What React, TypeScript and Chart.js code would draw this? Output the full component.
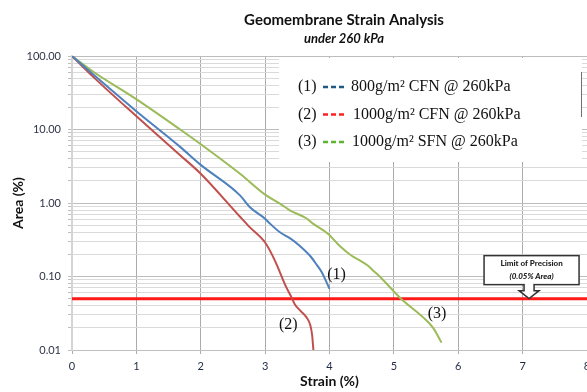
import React, { useEffect, useRef } from "react";
import { Chart, registerables } from "chart.js";

Chart.register(...registerables);

// ---- Data ----
const strain1 = [0, 0.33, 0.98, 1.68, 2.0, 2.61, 2.76, 3.0, 3.07, 3.23, 3.39, 3.54, 3.7, 3.8, 3.88, 3.95, 4.0];
const area1 = [100, 56, 18.3, 5.8, 3.3, 1.27, 0.88, 0.61, 0.53, 0.4, 0.33, 0.26, 0.19, 0.145, 0.114, 0.085, 0.068];

const strain2 = [0, 0.33, 0.98, 1.68, 2.0, 2.61, 2.76, 3.0, 3.15, 3.33, 3.41, 3.46, 3.55, 3.64, 3.7, 3.73, 3.75];
const area2 = [100, 52, 15.7, 4.47, 2.5, 0.65, 0.47, 0.29, 0.166, 0.071, 0.052, 0.042, 0.034, 0.028, 0.022, 0.016, 0.01];

const strain3 = [0, 0.33, 0.98, 1.68, 2.0, 2.61, 3.0, 3.23, 3.39, 3.64, 3.75, 3.98, 4.16, 4.35, 4.47, 4.6, 4.68, 4.78, 4.99, 5.12, 5.45, 5.61, 5.74];
const area3 = [100, 61, 26.5, 10, 6.3, 2.5, 1.3, 0.98, 0.79, 0.62, 0.52, 0.38, 0.26, 0.19, 0.166, 0.14, 0.12, 0.1, 0.064, 0.049, 0.028, 0.02, 0.0126];

const xTickValues = [0, 1, 2, 3, 4, 5, 6, 7, 8];
const yDecadeValues = [0.01, 0.1, 1, 10, 100];
const yTickLabels = ["0.01", "0.10", "1.00", "10.00", "100.00"];

const seriesTags = ["(1)", "(2)", "(3)"];
const legendNames = ["800g/m\u00B2 CFN @ 260kPa", "1000g/m\u00B2 CFN @ 260kPa", "1000g/m\u00B2 SFN @ 260kPa"];
const lineColors = ["#4f81bd", "#c0504d", "#9bbb59"];
const legendDashColors = ["#1f5a86", "#ff2020", "#5cb531"];
const tagX = [4.11, 3.36, 5.67];
const tagY = [0.106, 0.022, 0.031];

const limitValue = 0.05;
const limitArrowX = 7.1;
const limitText = ["Limit of Precision", "(0.05% Area)"];

const titleText = "Geomembrane Strain Analysis";
const subtitleText = "under 260 kPa";
const xTitle = "Strain (%)";
const yTitle = "Area (%)";

const toPoints = (xs: number[], ys: number[]) => xs.map((x, i) => ({ x, y: ys[i] }));

const overlayPlugin = {
  id: "overlay",
  beforeDatasetsDraw(chart: any) {
    const ctx = chart.ctx;
    ctx.save();
    // legend box (covers grid)
    ctx.fillStyle = "#ffffff";
    ctx.fillRect(279, 58, 303, 104);
    ctx.strokeStyle = "#707070";
    ctx.lineWidth = 1;
    ctx.beginPath();
    ctx.moveTo(581.5, 72);
    ctx.lineTo(581.5, 117);
    ctx.stroke();

    ctx.font = "16px 'Liberation Serif', 'Times New Roman', serif";
    ctx.textBaseline = "middle";
    ctx.textAlign = "left";
    const rows = [87, 114.5, 142];
    const textX = [351, 353, 352];
    for (let i = 0; i < 3; i++) {
      const y = rows[i];
      ctx.fillStyle = "#111111";
      ctx.fillText(seriesTags[i], 298, y);
      ctx.strokeStyle = legendDashColors[i];
      ctx.lineWidth = 2.5;
      ctx.setLineDash([5, 3]);
      ctx.beginPath();
      ctx.moveTo(323, y);
      ctx.lineTo(345, y);
      ctx.stroke();
      ctx.setLineDash([]);
      ctx.fillStyle = "#111111";
      ctx.fillText(legendNames[i], textX[i], y);
    }
    ctx.restore();
  },
  afterDraw(chart: any) {
    const ctx = chart.ctx;
    const xs = chart.scales.x;
    const ys = chart.scales.y;
    ctx.save();
    // titles
    ctx.fillStyle = "#111111";
    ctx.textAlign = "center";
    ctx.textBaseline = "middle";
    ctx.font = "bold 15px Lato, 'Open Sans', sans-serif";
    ctx.fillText(titleText, 344, 20);
    ctx.font = "italic bold 13px Lato, 'Open Sans', sans-serif";
    ctx.fillText(subtitleText, 344, 39);

    // curve tags
    ctx.font = "16px 'Liberation Serif', 'Times New Roman', serif";
    for (let i = 0; i < 3; i++) {
      ctx.fillText(seriesTags[i], xs.getPixelForValue(tagX[i]), ys.getPixelForValue(tagY[i]));
    }

    // limit annotation
    const tipX = xs.getPixelForValue(limitArrowX);
    const tipY = ys.getPixelForValue(limitValue);
    const bx0 = tipX - 45, bx1 = tipX + 50, by0 = tipY - 43, by1 = tipY - 14;
    ctx.fillStyle = "#ffffff";
    ctx.strokeStyle = "#333333";
    ctx.lineWidth = 1.5;
    ctx.fillRect(bx0, by0, bx1 - bx0, by1 - by0);
    ctx.strokeRect(bx0, by0, bx1 - bx0, by1 - by0);
    // arrow
    ctx.beginPath();
    ctx.moveTo(tipX - 5, by1);
    ctx.lineTo(tipX - 5, tipY - 8);
    ctx.lineTo(tipX - 10, tipY - 8);
    ctx.lineTo(tipX, tipY);
    ctx.lineTo(tipX + 10, tipY - 8);
    ctx.lineTo(tipX + 5, tipY - 8);
    ctx.lineTo(tipX + 5, by1);
    ctx.fill();
    ctx.stroke();
    ctx.fillRect(tipX - 4, by1 - 1.5, 8, 3);
    ctx.fillStyle = "#222222";
    const cx = (bx0 + bx1) / 2;
    ctx.font = "900 8px Lato, 'Open Sans', sans-serif";
    ctx.fillText(limitText[0], cx, by0 + 8);
    ctx.font = "italic 900 8px Lato, 'Open Sans', sans-serif";
    ctx.fillText(limitText[1], cx, by0 + 21);
    ctx.restore();
  },
};

export default function App() {
  const canvasRef = useRef<HTMLCanvasElement | null>(null);

  useEffect(() => {
    if (!canvasRef.current) return;
    const yGridValues: number[] = [];
    for (let d = -2; d <= 1; d++) {
      for (let k = 1; k <= 9; k++) yGridValues.push(Number((k * Math.pow(10, d)).toPrecision(6)));
    }
    yGridValues.push(100);
    const isDecade = (v: number) => Math.abs(Math.log10(v) - Math.round(Math.log10(v))) < 1e-9;

    const curve = (i: number, xs: number[], ys: number[]) => ({
      label: legendNames[i],
      data: toPoints(xs, ys),
      borderColor: lineColors[i],
      borderWidth: 2,
      pointRadius: 0,
      cubicInterpolationMode: "monotone",
      fill: false,
    });

    const chart = new Chart(canvasRef.current, {
      type: "line",
      data: {
        datasets: [
          curve(0, strain1, area1),
          curve(1, strain2, area2),
          curve(2, strain3, area3),
          { label: "limit", data: toPoints([xTickValues[0], xTickValues[xTickValues.length - 1]], [limitValue, limitValue]), borderColor: "#ff1a1a", borderWidth: 3, pointRadius: 0, fill: false },
        ],
      },
      options: {
        responsive: false,
        animation: false,
        devicePixelRatio: 1,
        layout: { padding: { top: 56, right: 13, bottom: 0, left: 0 } },
        plugins: { legend: { display: false }, tooltip: { enabled: false }, title: { display: false } },
        scales: {
          x: {
            type: "linear",
            min: xTickValues[0],
            max: xTickValues[xTickValues.length - 1],
            afterBuildTicks: (scale: any) => {
              scale.ticks = xTickValues.map((v) => ({ value: v }));
            },
            afterFit: (scale: any) => {
              scale.height = 42;
            },
            grid: { color: "#ababab", lineWidth: 1, tickLength: 4, tickColor: "#ababab" },
            border: { color: "#bfbfbf", width: 1 },
            ticks: {
              autoSkip: false,
              maxRotation: 0,
              padding: 6,
              color: "#1f2a44",
              font: { family: "Lato, 'Open Sans', sans-serif", size: 11 },
              callback: (v: any) => String(v),
            },
            title: {
              display: true,
              text: xTitle,
              color: "#111111",
              font: { family: "Lato, 'Open Sans', sans-serif", size: 14, weight: "bold" },
              padding: { top: 0, bottom: 2 },
            },
          },
          y: {
            type: "logarithmic",
            min: yDecadeValues[0],
            max: yDecadeValues[yDecadeValues.length - 1],
            afterBuildTicks: (scale: any) => {
              scale.ticks = yGridValues.map((v) => ({ value: v, major: isDecade(v) }));
            },
            afterFit: (scale: any) => {
              scale.width = 72;
            },
            grid: {
              color: (c: any) => (c.tick && isDecade(c.tick.value) ? "#bdbdbd" : "#dadada"),
              tickColor: "#bfbfbf",
              lineWidth: 1,
              tickLength: 4,
            },
            border: { color: "#d4d4d4", width: 2 },
            ticks: {
              autoSkip: false,
              padding: 7,
              color: "#2f3447",
              font: { family: "Lato, 'Open Sans', sans-serif", size: 11 },
              callback: (v: any) => {
                const n = Number(v);
                const idx = yDecadeValues.findIndex((d) => Math.abs(d - n) / d < 1e-6);
                return idx >= 0 ? yTickLabels[idx] : "";
              },
            },
            title: {
              display: true,
              text: yTitle,
              color: "#111111",
              font: { family: "Lato, 'Open Sans', sans-serif", size: 14, weight: "bold" },
              padding: { top: 10, bottom: 0 },
            },
          },
        },
      },
      plugins: [overlayPlugin],
    } as any);
    return () => chart.destroy();
  }, []);

  return (
    <div style={{ position: "absolute", left: 0, top: 0, width: 587, height: 392, overflow: "hidden", background: "#ffffff" }}>
      <canvas ref={canvasRef} width={600} height={392} style={{ display: "block" }} />
    </div>
  );
}
